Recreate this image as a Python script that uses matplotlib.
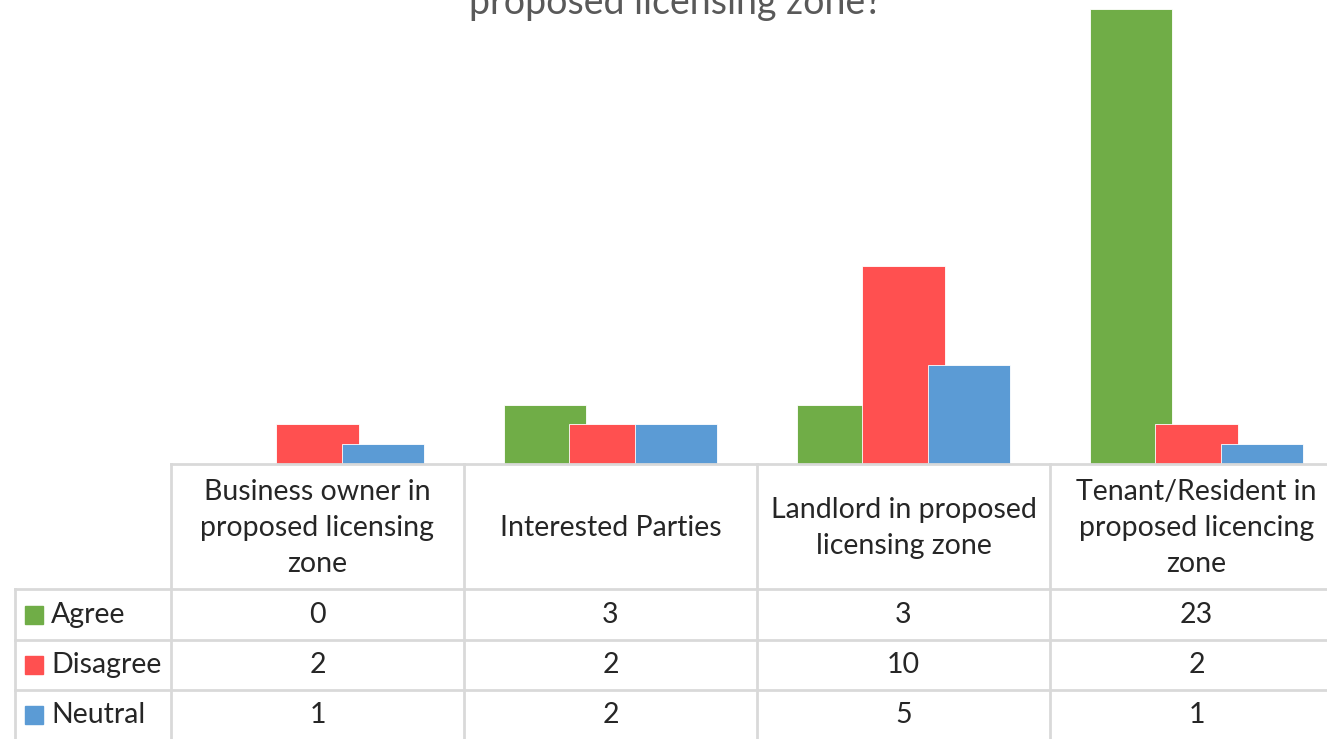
import matplotlib
matplotlib.use("Agg")
import matplotlib.pyplot as plt
import numpy as np

categories = [
    "Business owner in\nproposed licensing\nzone",
    "Interested Parties",
    "Landlord in proposed\nlicensing zone",
    "Tenant/Resident in\nproposed licencing\nzone",
]
series_names = ["Agree", "Disagree", "Neutral"]
agree = [0, 3, 3, 23]
disagree = [2, 2, 10, 2]
neutral = [1, 2, 5, 1]
colors = ["#70AD47", "#FF5050", "#5B9BD5"]
title_tail = "proposed licensing zone?"

W, H = 1327, 739
plt.rcParams["font.family"] = ["Lato", "DejaVu Sans"]
fig = plt.figure(figsize=(W / 100, H / 100), dpi=100)
fig.patch.set_facecolor("white")

# ── layout in pixels ────────────────────────────────────────────────────────
col_left, col_w = 171, 293
base_y = 464
label_left = 15
row_edges = [464, 589, 640, 690, 745]
px_per_unit = 19.8

def fx(px):
    return px / W

def fy(py):
    return 1 - py / H

# ── bar panel ───────────────────────────────────────────────────────────────
ax = fig.add_axes([fx(col_left), fy(base_y), (len(categories) * col_w) / W, base_y / H])
ax.set_xlim(0, len(categories))
ax.set_ylim(0, base_y / px_per_unit)
ax.axis("off")

x = np.arange(len(categories)) + 0.5
step, width = 0.225, 0.28
for k, (vals, c) in enumerate(zip([agree, disagree, neutral], colors)):
    ax.bar(x + (k - 1) * step, vals, width=width, color=c, zorder=2 + k,
           edgecolor="white", linewidth=0.6)

# ── title (upper part lies outside the frame, as in the source) ─────────────
fig.text(fx(675), fy(14), title_tail, ha="center", va="baseline",
         fontsize=27, color="#595959")

# ── data table ──────────────────────────────────────────────────────────────
tab = fig.add_axes([0, 0, 1, 1])
tab.set_xlim(0, W)
tab.set_ylim(H, 0)
tab.axis("off")
grid_kw = dict(color="#D9D9D9", linewidth=2.0, zorder=1)

col_edges = [col_left + i * col_w for i in range(len(categories) + 1)]
tab.plot([col_left, col_edges[-1]], [row_edges[0], row_edges[0]], **grid_kw)
for xe in col_edges:
    tab.plot([xe, xe], [row_edges[0], row_edges[-1]], **grid_kw)
tab.plot([label_left, label_left], [row_edges[1], row_edges[-1]], **grid_kw)
for ye in row_edges[1:-1]:
    tab.plot([label_left, col_edges[-1]], [ye, ye], **grid_kw)

txt_kw = dict(ha="center", va="center", fontsize=20.5, color="#262626",
              linespacing=1.5)
for i, cat in enumerate(categories):
    tab.text(col_left + (i + 0.5) * col_w, 528, cat, **txt_kw)

row_centers = [615, 665, 715]
for r, (name, vals, c) in enumerate(zip(series_names, [agree, disagree, neutral], colors)):
    yc = row_centers[r]
    tab.add_patch(plt.Rectangle((25, yc - 9), 18, 18, color=c, zorder=2))
    tab.text(51, yc, name, ha="left", va="center", fontsize=20.5, color="#262626")
    for i, v in enumerate(vals):
        tab.text(col_left + (i + 0.5) * col_w, yc, str(v), **txt_kw)

fig.savefig("out.png", dpi=100, facecolor="white")
